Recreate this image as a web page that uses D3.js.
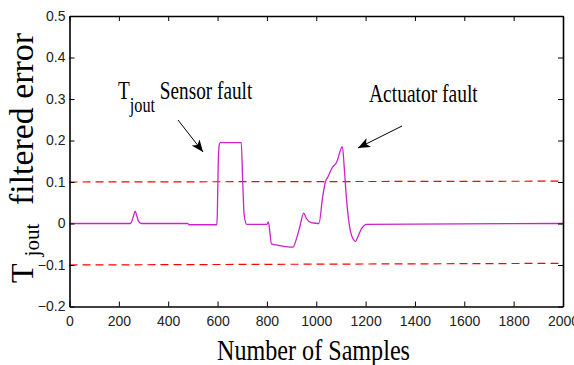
<!DOCTYPE html>
<html>
<head>
<meta charset="utf-8">
<script src="https://cdn.jsdelivr.net/npm/d3@7"></script>
<style>
  body { margin: 0; background: #fff; }
  .tick text { font-family: "Liberation Sans Narrow", "Arial Narrow", "Liberation Sans", sans-serif; font-size: 14px; fill: #222; }
</style>
</head>
<body>
<div id="my_dataviz"></div>
<script>
// data
var samples = [0, 247, 258, 266, 272, 280, 291, 479, 485, 597, 599, 603, 607, 611, 696, 702, 708, 718,
  800, 806, 812, 818, 850, 906, 918, 933, 949, 960, 980, 1011, 1025, 1037, 1047, 1065, 1082, 1106,
  1114, 1122, 1138, 1150, 1159, 1170, 1183, 1204, 2000];
var errorValues = [0, 0, 0.015, 0.03, 0.02, 0.005, 0, 0, -0.003, -0.003, 0.02, 0.15, 0.19, 0.195, 0.195, 0.1, 0.02, -0.002,
  -0.002, 0.004, -0.02, -0.049, -0.053, -0.057, -0.04, -0.009, 0.025, 0.012, 0.002, 0.0, 0.06, 0.1, 0.112, 0.135, 0.147, 0.185,
  0.13, 0.063, -0.017, -0.038, -0.043, -0.03, -0.013, -0.002, 0];
var upperLimit = [0.1, 0.102];
var lowerLimit = [-0.1, -0.096];
var xTicks = [0, 200, 400, 600, 800, 1000, 1200, 1400, 1600, 1800, 2000];
var yTicks = [-0.2, -0.1, 0, 0.1, 0.2, 0.3, 0.4, 0.5];

var margin = {top: 16, right: 11, bottom: 58.5, left: 69.5},
    width = 574 - margin.left - margin.right,
    height = 365 - margin.top - margin.bottom;

var root = d3.select("#my_dataviz")
  .append("svg")
    .attr("width", 574)
    .attr("height", 365);

var svg = root.append("g")
    .attr("transform", "translate(" + margin.left + "," + margin.top + ")");

var x = d3.scaleLinear().domain([0, 2000]).range([0, width]);
var y = d3.scaleLinear().domain([-0.2, 0.5]).range([height, 0]);

// threshold lines
[upperLimit, lowerLimit].forEach(function(lim) {
  svg.append("line")
    .attr("x1", x(0)).attr("x2", x(2000))
    .attr("y1", y(lim[0])).attr("y2", y(lim[1]))
    .attr("stroke", "#ff0000")
    .attr("stroke-width", 1.2)
    .attr("stroke-dasharray", "8,5");
});

// the error curve
var line = d3.line()
  .curve(d3.curveMonotoneX)
  .x(function(d, i) { return x(samples[i]); })
  .y(function(d) { return y(d); });

svg.append("path")
  .datum(errorValues)
  .attr("fill", "none")
  .attr("stroke", "#cc22cc")
  .attr("stroke-width", 1.3)
  .attr("d", line);

// axes, ticks pointing inward on all sides
function styleAxis(g) {
  g.select(".domain").attr("stroke", "#000").attr("stroke-width", 1.6);
  g.selectAll(".tick line").attr("stroke", "#000");
}
svg.append("g")
  .attr("transform", "translate(0," + height + ")")
  .call(d3.axisBottom(x).tickValues(xTicks).tickSize(-5).tickPadding(10).tickSizeOuter(0).tickFormat(d3.format("d")))
  .call(styleAxis);
svg.append("g")
  .call(d3.axisLeft(y).tickValues(yTicks).tickSize(-5).tickPadding(4).tickSizeOuter(0).tickFormat(d3.format("")))
  .call(styleAxis);
svg.append("g")
  .call(d3.axisTop(x).tickValues(xTicks).tickSize(-5).tickSizeOuter(0).tickFormat(""))
  .call(styleAxis);
svg.append("g")
  .attr("transform", "translate(" + width + ",0)")
  .call(d3.axisRight(y).tickValues(yTicks).tickSize(-5).tickSizeOuter(0).tickFormat(""))
  .call(styleAxis);

// axis labels
root.append("text")
  .attr("x", 217).attr("y", 360)
  .attr("textLength", 193)
  .attr("lengthAdjust", "spacingAndGlyphs")
  .style("font-family", "Liberation Serif, Times New Roman, serif")
  .style("font-size", "30px")
  .text("Number of Samples");

var yl = root.append("text")
  .attr("transform", "translate(33,283) rotate(-90)")
  .style("font-family", "Liberation Serif, Times New Roman, serif")
  .style("font-size", "32px");
yl.append("tspan").text("T");
yl.append("tspan").attr("dy", 6).attr("dx", 7).style("font-size", "21px").text("jout");

root.append("text")
  .attr("transform", "translate(33,205) rotate(-90)")
  .attr("textLength", 172)
  .attr("lengthAdjust", "spacingAndGlyphs")
  .style("font-family", "Liberation Serif, Times New Roman, serif")
  .style("font-size", "33px")
  .text("filtered error");

// annotations
var a1 = root.append("text")
  .attr("transform", "translate(118,99) scale(0.74,1)")
  .style("font-family", "Liberation Serif, Times New Roman, serif")
  .style("font-size", "26px");
a1.append("tspan").text("T");
a1.append("tspan").attr("dy", 13).style("font-size", "22px").text("jout");
a1.append("tspan").attr("dy", -13).text(" Sensor fault");

root.append("text")
  .attr("transform", "translate(369,102) scale(0.75,1)")
  .style("font-family", "Liberation Serif, Times New Roman, serif")
  .style("font-size", "26px")
  .text("Actuator fault");

// arrows
root.append("defs").append("marker")
  .attr("id", "head")
  .attr("viewBox", "0 0 12 10")
  .attr("refX", 12).attr("refY", 5)
  .attr("markerWidth", 12).attr("markerHeight", 10)
  .attr("markerUnits", "userSpaceOnUse")
  .attr("orient", "auto")
  .append("path")
    .attr("d", "M0,0 L12,5 L0,10 L3,5 Z")
    .attr("fill", "#000");

[[178, 120, 203, 152], [402, 126, 358, 148]].forEach(function(a) {
  root.append("line")
    .attr("x1", a[0]).attr("y1", a[1])
    .attr("x2", a[2]).attr("y2", a[3])
    .attr("stroke", "#000")
    .attr("stroke-width", 1)
    .attr("marker-end", "url(#head)");
});
</script>
</body>
</html>
